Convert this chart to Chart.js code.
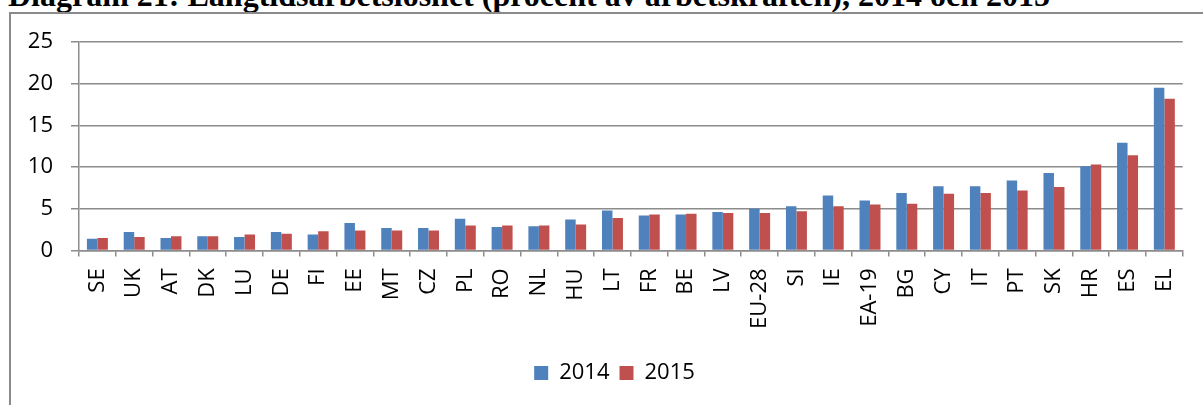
<!DOCTYPE html>
<html>
<head>
<meta charset="utf-8">
<script src="https://cdn.jsdelivr.net/npm/chart.js@4/dist/chart.umd.min.js"></script>
<style>
    html, body {
        margin: 0;
        padding: 0;
        background: #ffffff;
        overflow: hidden;
    }
    #wrap {
        position: relative;
        width: 1203px;
        height: 405px;
    }
    #title {
        position: absolute;
        left: 8px;
        top: -21px;
        font-family: "Liberation Serif", "Times New Roman", serif;
        font-weight: bold;
        font-size: 32px;
        line-height: 32px;
        white-space: nowrap;
        color: #000000;
    }
    #frame {
        position: absolute;
        left: 9px;
        top: 12px;
        width: 1200px;
        height: 400px;
        border-left: 2px solid #8a8a8a;
        border-top: 2px solid #8a8a8a;
    }
    #myChart {
        position: absolute;
        left: 0;
        top: 0;
    }
</style>
</head>
<body>
<div id="wrap">
    <div id="title">Diagram 21: Långtidsarbetslöshet (procent av arbetskraften), 2014 och 2015</div>
    <div id="frame"></div>
    <canvas id="myChart" width="1203" height="405"></canvas>
</div>
<script>
const countries = ["SE", "UK", "AT", "DK", "LU", "DE", "FI", "EE", "MT", "CZ",
    "PL", "RO", "NL", "HU", "LT", "FR", "BE", "LV", "EU-28", "SI",
    "IE", "EA-19", "BG", "CY", "IT", "PT", "SK", "HR", "ES", "EL"];
const values2014 = [1.4, 2.2, 1.5, 1.7, 1.6, 2.2, 1.9, 3.3, 2.7, 2.7,
    3.8, 2.8, 2.9, 3.7, 4.8, 4.2, 4.3, 4.6, 5.0, 5.3,
    6.6, 6.0, 6.9, 7.7, 7.7, 8.4, 9.3, 10.1, 12.9, 19.5];
const values2015 = [1.5, 1.6, 1.7, 1.7, 1.9, 2.0, 2.3, 2.4, 2.4, 2.4,
    3.0, 3.0, 3.0, 3.1, 3.9, 4.3, 4.4, 4.5, 4.5, 4.7,
    5.3, 5.5, 5.6, 6.8, 6.9, 7.2, 7.6, 10.3, 11.4, 18.2];
const seriesNames = ["2014", "2015"];
const yTicks = [0, 5, 10, 15, 20, 25];

const gridGrey = "#8c8c8c";
const labelFont = { family: "'Open Sans', 'Noto Sans', sans-serif", size: 22 };

function makeChart() {
    const ctx = document.getElementById("myChart").getContext("2d");
    return new Chart(ctx, {
        type: "bar",
        data: {
            labels: countries,
            datasets: [
                {
                    label: seriesNames[0],
                    data: values2014,
                    backgroundColor: "#4F81BD",
                    borderWidth: 0,
                    categoryPercentage: 0.57,
                    barPercentage: 1.0,
                },
                {
                    label: seriesNames[1],
                    data: values2015,
                    backgroundColor: "#C0504D",
                    borderWidth: 0,
                    categoryPercentage: 0.57,
                    barPercentage: 1.0,
                },
            ],
        },
        options: {
            responsive: false,
            animation: false,
            layout: {
                padding: { left: 26, right: 0, top: 42, bottom: 11 },
            },
            scales: {
                x: {
                    grid: {
                        offset: true,
                        drawOnChartArea: false,
                        drawTicks: true,
                        tickLength: 6,
                        color: gridGrey,
                        lineWidth: 1.5,
                    },
                    border: { display: true, color: gridGrey, width: 1.5 },
                    ticks: {
                        autoSkip: false,
                        minRotation: 90,
                        maxRotation: 90,
                        padding: 12,
                        color: "#000000",
                        font: labelFont,
                    },
                    afterFit: function (scale) {
                        scale.height = 101.6;
                    },
                },
                y: {
                    min: 0,
                    max: 25,
                    afterBuildTicks: function (scale) {
                        scale.ticks = yTicks.map(v => ({ value: v }));
                    },
                    grid: {
                        color: gridGrey,
                        lineWidth: 1.5,
                        drawTicks: true,
                        tickLength: 8,
                    },
                    border: { display: true, color: gridGrey, width: 1.5 },
                    ticks: {
                        padding: 18,
                        color: "#000000",
                        font: labelFont,
                    },
                    afterFit: function (scale) {
                        scale.width = 53;
                    },
                },
                // empty strip on the right so the plot ends where Excel's did
                rightGap: {
                    position: "right",
                    min: 0,
                    max: 25,
                    grid: { display: false },
                    border: { display: false },
                    ticks: { display: false },
                    afterFit: function (scale) {
                        scale.width = 16;
                    },
                },
            },
            plugins: {
                legend: {
                    position: "bottom",
                    labels: {
                        boxWidth: 14,
                        boxHeight: 14,
                        padding: 10,
                        color: "#000000",
                        font: labelFont,
                    },
                },
                tooltip: { enabled: false },
            },
        },
    });
}

const chart = makeChart();
</script>
</body>
</html>
